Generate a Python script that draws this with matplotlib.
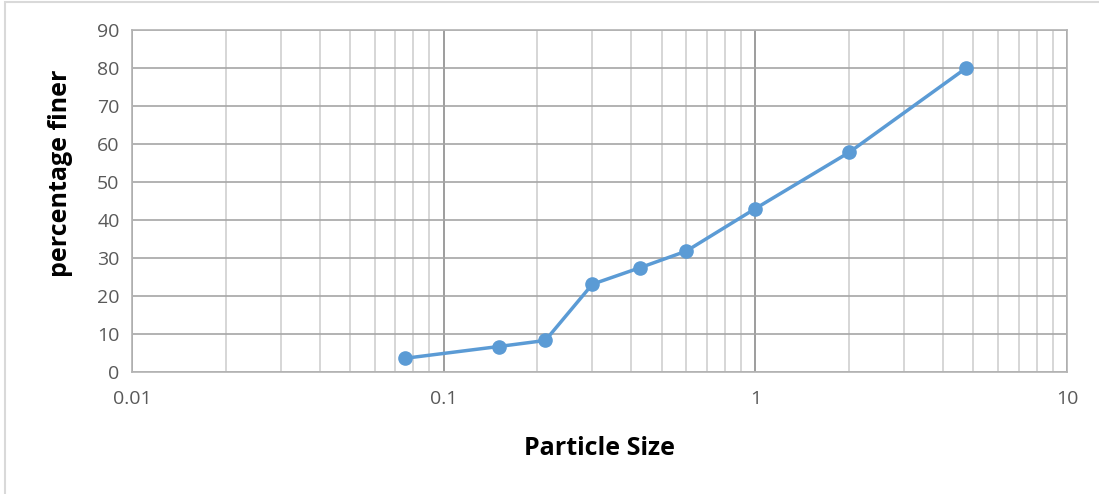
import matplotlib.pyplot as plt
from matplotlib.patches import Rectangle
from matplotlib.ticker import LogLocator, NullFormatter, FixedLocator

# sieve analysis data
particle_size = [0.075, 0.15, 0.212, 0.3, 0.425, 0.6, 1.0, 2.0, 4.75]
percent_finer = [3.6, 6.7, 8.3, 23.1, 27.4, 31.8, 43.0, 57.8, 80.0]

x_ticks = [0.01, 0.1, 1, 10]
x_tick_labels = ['0.01', '0.1', '1', '10']
y_ticks = [0, 10, 20, 30, 40, 50, 60, 70, 80, 90]

plt.rcParams['font.family'] = ['Open Sans', 'DejaVu Sans']

fig = plt.figure(figsize=(10.99, 4.94), dpi=100)
ax = fig.add_axes([132 / 1099, 1 - 372 / 494, (1067 - 132) / 1099, (372 - 30) / 494])

# chart border (Excel style)
fig.patches.append(Rectangle((5 / 1099, -0.1), 1.2, 1 - 2 / 494 + 0.1,
                             transform=fig.transFigure, fill=False,
                             edgecolor='#d9d9d9', linewidth=1.5))

ax.plot(particle_size, percent_finer, color='#5b9bd5', linewidth=2.5,
        marker='o', markersize=9.5, zorder=3)

ax.set_xscale('log')
ax.set_xlim(0.01, 10)
ax.set_ylim(0, 90)
ax.xaxis.set_major_locator(FixedLocator(x_ticks))
ax.set_xticklabels(x_tick_labels)
ax.xaxis.set_minor_locator(LogLocator(base=10, subs=range(2, 10)))
ax.xaxis.set_minor_formatter(NullFormatter())
ax.set_yticks(y_ticks)

ax.grid(which='major', axis='x', color='#8c8c8c', linewidth=1.2)
ax.grid(which='minor', axis='x', color='#d0d0d0', linewidth=1.2)
ax.grid(which='major', axis='y', color='#a6a6a6', linewidth=1.2)
ax.set_axisbelow(True)

for side in ax.spines.values():
    side.set_color('#b3b3b3')
    side.set_linewidth(1.2)

ax.tick_params(which='both', length=0, labelsize=14, labelcolor='#595959')
ax.tick_params(axis='x', pad=13)
ax.tick_params(axis='y', pad=9)

ax.set_xlabel('Particle Size', fontsize=18, fontweight='bold', labelpad=20)
ax.set_ylabel('percentage finer', fontsize=18, fontweight='bold')
ax.yaxis.set_label_coords(-0.063, 0.58)

plt.savefig('out.png', dpi=100)
